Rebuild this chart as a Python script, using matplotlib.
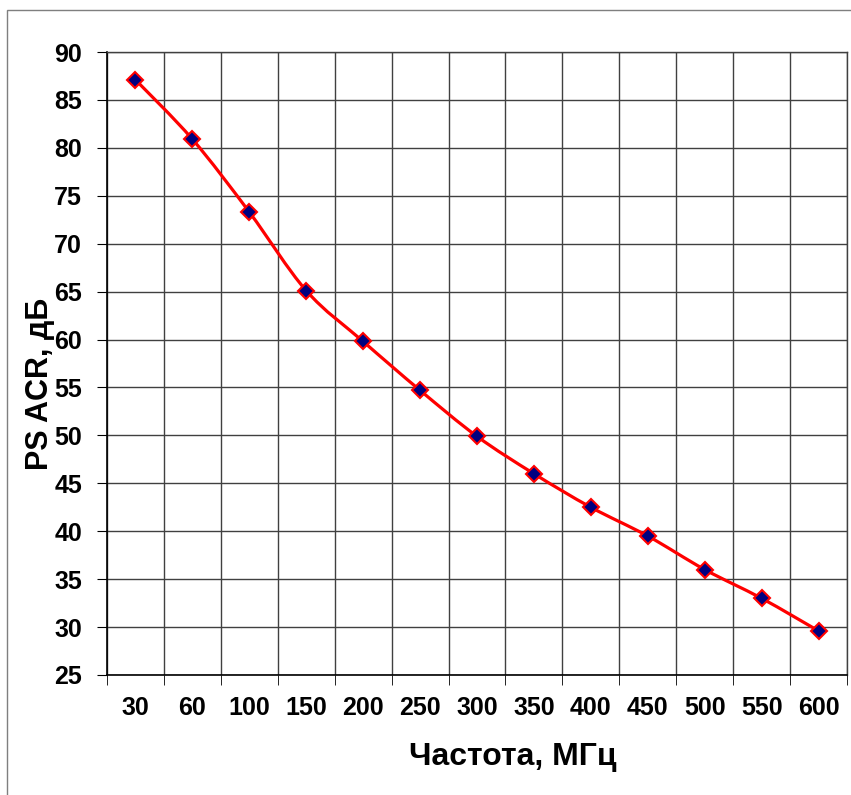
import matplotlib.pyplot as plt
import matplotlib.patches as mpatches
from matplotlib.path import Path
import numpy as np

plt.rcParams['font.family'] = ['Liberation Sans', 'DejaVu Sans']

freq_labels = ['30', '60', '100', '150', '200', '250', '300',
               '350', '400', '450', '500', '550', '600']
ps_acr = [87.1, 80.9, 73.3, 65.1, 59.8, 54.7, 49.9,
          46.0, 42.5, 39.5, 36.0, 33.0, 29.6]
y_ticks = list(range(25, 95, 5))

fig = plt.figure(figsize=(8.51, 7.95), dpi=100)
W, H = 851, 795
ax = fig.add_axes([107 / W, 1 - 675 / H, (847 - 107) / W, (675 - 52) / H])

# outer chart frame (cut at right/bottom like the source)
fig.patches.append(mpatches.Rectangle((7 / W, -0.1), 1.2, 1 - 10 / H + 0.1,
                                      transform=fig.transFigure, fill=False,
                                      edgecolor='#7f7f7f', linewidth=1.0))

x = np.arange(len(ps_acr))
y = np.array(ps_acr)

# smoothed line (Catmull-Rom -> cubic Bezier, like Excel smoothing)
verts = [(x[0], y[0])]
codes = [Path.MOVETO]
for i in range(len(x) - 1):
    p0 = np.array([x[max(i - 1, 0)], y[max(i - 1, 0)]])
    p1 = np.array([x[i], y[i]])
    p2 = np.array([x[i + 1], y[i + 1]])
    p3 = np.array([x[min(i + 2, len(x) - 1)], y[min(i + 2, len(x) - 1)]])
    c1 = p1 + (p2 - p0) / 6
    c2 = p2 - (p3 - p1) / 6
    verts += [tuple(c1), tuple(c2), tuple(p2)]
    codes += [Path.CURVE4] * 3
ax.add_patch(mpatches.PathPatch(Path(verts, codes), fill=False,
                                edgecolor='red', linewidth=2.3, zorder=3))
ax.plot(x, y, linestyle='none', marker='D', markersize=8,
        markerfacecolor='#000080', markeredgecolor='red',
        markeredgewidth=1.5, zorder=4)

ax.set_xlim(-0.5, len(x) - 0.5)
ax.set_ylim(25, 90)
ax.set_yticks(y_ticks)
ax.set_xticks(x)
ax.set_xticklabels(freq_labels)
ax.set_xticks(np.arange(-0.5, len(x)), minor=True)
ax.tick_params(axis='x', which='major', length=0, pad=15, labelsize=18)
ax.tick_params(axis='x', which='minor', length=7, direction='out', color='black')
ax.tick_params(axis='y', length=7, direction='out', pad=11, labelsize=18)
for lab in ax.get_xticklabels() + ax.get_yticklabels():
    lab.set_fontweight('bold')

ax.grid(True, which='minor', axis='x', color='#404040', linewidth=1.0)
ax.grid(True, which='major', axis='y', color='#404040', linewidth=1.0)
for s in ['top', 'right']:
    ax.spines[s].set_color('#404040')
    ax.spines[s].set_linewidth(1.0)
for s in ['left', 'bottom']:
    ax.spines[s].set_color('black')
    ax.spines[s].set_linewidth(1.2)

ax.set_xlabel('Частота, МГц', fontsize=23, fontweight='bold')
ax.xaxis.set_label_coords((513 - 107) / 740, (675 - 742) / 623)
ax.set_ylabel('PS ACR, дБ', fontsize=22, fontweight='bold')
ax.yaxis.set_label_coords(-52 / 740, (675 - 384) / 623)

fig.savefig('out.png', dpi=100)
